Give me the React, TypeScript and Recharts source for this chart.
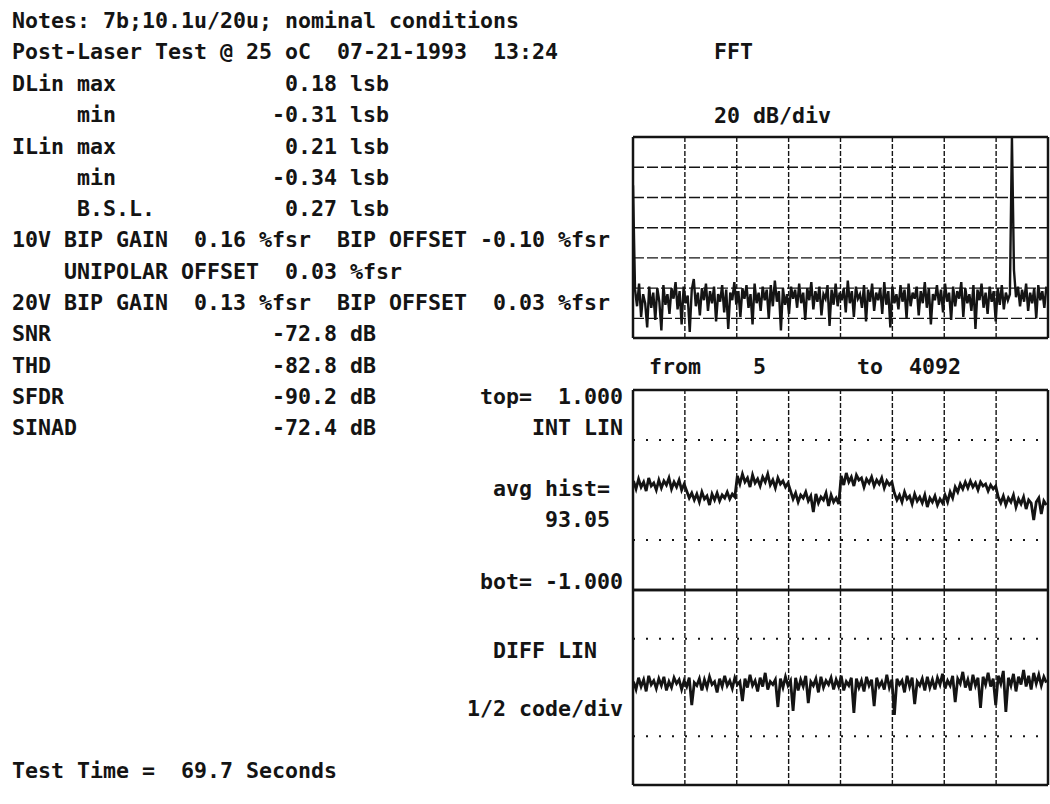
import React from 'react';
import { LineChart, Line, XAxis, YAxis, ReferenceLine } from 'recharts';

const FONT = '"DejaVu Sans Mono", "Liberation Mono", monospace';
const CHAR_W = 13;
const INK = '#141414';

// report text: [column, row centre y, text]
const reportLabels: [number, number, string][] = [
  [0, 20, 'Notes: 7b;10.1u/20u; nominal conditions'],
  [0, 51, 'Post-Laser Test @ 25 oC  07-21-1993  13:24'],
  [54, 51, 'FFT'],
  [0, 83, 'DLin max'], [21, 83, '0.18 lsb'],
  [5, 114, 'min'], [20, 114, '-0.31 lsb'],
  [0, 146, 'ILin max'], [21, 146, '0.21 lsb'],
  [5, 177, 'min'], [20, 177, '-0.34 lsb'],
  [5, 208, 'B.S.L.'], [21, 208, '0.27 lsb'],
  [0, 239, '10V BIP GAIN'], [14, 239, '0.16 %fsr'], [25, 239, 'BIP OFFSET'], [36, 239, '-0.10 %fsr'],
  [4, 271, 'UNIPOLAR OFFSET'], [21, 271, '0.03 %fsr'],
  [0, 302, '20V BIP GAIN'], [14, 302, '0.13 %fsr'], [25, 302, 'BIP OFFSET'], [37, 302, '0.03 %fsr'],
  [0, 333, 'SNR'], [20, 333, '-72.8 dB'],
  [0, 365, 'THD'], [20, 365, '-82.8 dB'],
  [0, 396, 'SFDR'], [20, 396, '-90.2 dB'],
  [0, 427, 'SINAD'], [20, 427, '-72.4 dB'],
  [54, 115, '20 dB/div'],
  [49, 366, 'from'], [57, 366, '5'], [65, 366, 'to'], [69, 366, '4092'],
  [36, 396, 'top=  1.000'],
  [40, 427, 'INT LIN'],
  [37, 488, 'avg hist='],
  [41, 519, '93.05'],
  [36, 581, 'bot= -1.000'],
  [37, 650, 'DIFF LIN'],
  [35, 708, '1/2 code/div'],
  [0, 770, 'Test Time =  69.7 Seconds'],
];

// FFT, 20 dB/div, one value every 10 bins
const FFT_BIN_STEP = 10;
const fftDb = [
  -32, -101, -112, -97, -119, -104, -110, -126, -99, -113,
  -103, -121, -100, -109, -128, -98, -111, -104, -117, -100,
  -107, -96, -114, -102, -124, -99, -110, -105, -129, -101,
  -94, -112, -103, -118, -100, -108, -97, -115, -102, -110,
  -99, -122, -104, -109, -98, -116, -101, -127, -103, -108,
  -96, -111, -102, -119, -100, -107, -98, -113, -104, -124,
  -97, -110, -103, -115, -99, -108, -101, -120, -98, -112,
  -95, -109, -102, -128, -100, -111, -104, -117, -99, -107,
  -101, -113, -97, -110, -103, -121, -100, -108, -96, -114,
  -102, -109, -99, -118, -104, -107, -98, -125, -101, -111,
  -97, -112, -103, -108, -100, -116, -95, -110, -102, -119,
  -99, -107, -104, -113, -98, -122, -101, -109, -97, -115,
  -103, -108, -100, -117, -96, -111, -102, -126, -99, -110,
  -104, -114, -98, -109, -101, -120, -97, -112, -103, -107,
  -99, -118, -102, -110, -96, -113, -100, -124, -104, -108,
  -98, -111, -101, -116, -97, -109, -103, -121, -99, -112,
  -102, -107, -96, -119, -100, -110, -104, -115, -98, -127,
  -101, -108, -97, -113, -103, -117, -99, -109, -102, -122,
  -100, -111, -98, -114, -103, -108, -104, 0, -88, -106,
  -99, -112, -101, -109, -97, -115, -103, -110, -100, -120,
  -98, -108, -102, -113, -99,
];
const fftXTicks = [256, 512, 768, 1024, 1280, 1536, 1792];
const fftYTicks = [-20, -40, -60, -80, -100, -120];

// histogram codes 5 .. 4092, one value every 25 codes
const CODE_START = 5;
const CODE_STEP = 25;
const inlLsb = [
  0.09, 0.01, 0.11, 0.03, 0.08, -0.01, 0.12, 0.04, 0.07, 0.0, 0.10, 0.02, 0.09, 0.05, 0.12, 0.01, 0.08, 0.03, 0.10, 0.0, 0.06,
  -0.01, -0.08, -0.03, -0.10, -0.04, -0.12, -0.02, -0.09, -0.06, -0.15, -0.04, -0.10, -0.03, -0.11, -0.05, -0.08, -0.02, -0.09, -0.04, -0.07,
  0.14, 0.06, 0.16, 0.08, 0.12, 0.03, 0.15, 0.07, 0.11, 0.04, 0.13, 0.08, 0.16, 0.05, 0.10, 0.02, 0.12, 0.06, 0.09, 0.03, 0.07,
  -0.01, -0.09, -0.03, -0.12, -0.05, -0.08, -0.02, -0.11, -0.06, -0.22, -0.04, -0.13, -0.07, -0.10, -0.03, -0.16, -0.05, -0.12, -0.08, -0.14,
  0.14, 0.05, 0.17, 0.08, 0.13, 0.04, 0.15, 0.10, 0.12, 0.03, 0.11, 0.07, 0.13, 0.04, 0.10, 0.06, 0.12, 0.02, 0.09, 0.05, 0.08,
  -0.03, -0.10, -0.05, -0.12, -0.02, -0.09, -0.06, -0.14, -0.04, -0.11, -0.07, -0.13, -0.05, -0.17, -0.08, -0.12, -0.06, -0.15, -0.09, -0.13,
  -0.05, -0.12, -0.02, -0.08, 0.03, -0.02, 0.06, 0.01, 0.08, 0.02, 0.09, 0.03, 0.07, 0.0, 0.08, 0.04, 0.06, -0.01, 0.05, 0.01, 0.04,
  -0.07, -0.13, -0.06, -0.15, -0.08, -0.12, -0.05, -0.17, -0.09, -0.14, -0.07, -0.19, -0.10, -0.13, -0.30, -0.12, -0.08, -0.24, -0.11, -0.15,
];
const dnlLsb = [
  0.06, -0.02, 0.10, 0.01, 0.08, -0.04, 0.12, 0.03, 0.07, -0.01, 0.09, 0.02, 0.11, -0.03, 0.06, 0.0, 0.10, 0.04, 0.08, -0.02,
  0.07, 0.01, 0.10, -0.18, 0.05, 0.02, 0.09, -0.03, 0.08, 0.0, 0.11, 0.03, 0.06, -0.05, 0.09, 0.01, 0.12, 0.02, 0.07, -0.01,
  0.10, 0.03, 0.06, -0.14, 0.09, 0.0, 0.13, 0.02, 0.07, -0.04, 0.10, 0.01, 0.15, -0.02, 0.06, 0.03, 0.08, -0.20, 0.09, 0.0,
  0.11, 0.02, 0.07, -0.24, 0.10, -0.03, 0.08, 0.01, 0.12, -0.16, 0.06, 0.02, 0.09, -0.05, 0.11, 0.0, 0.07, 0.03, 0.10, -0.02,
  0.08, 0.01, 0.12, -0.03, 0.06, 0.02, 0.10, -0.26, 0.09, 0.0, 0.07, -0.04, 0.11, 0.02, 0.08, -0.19, 0.10, 0.01, 0.06, -0.02,
  0.13, 0.0, 0.08, -0.28, 0.09, 0.03, 0.07, -0.05, 0.12, 0.01, 0.10, -0.17, 0.06, 0.02, 0.09, -0.03, 0.11, 0.0, 0.08, -0.02,
  0.10, 0.03, 0.14, -0.01, 0.07, 0.02, 0.12, -0.15, 0.09, 0.04, 0.16, 0.0, 0.08, -0.03, 0.13, 0.02, 0.10, -0.21, 0.11, 0.03,
  0.15, 0.01, 0.09, -0.18, 0.12, 0.04, 0.17, -0.25, 0.10, 0.02, 0.14, -0.04, 0.11, 0.03, 0.18, 0.01, 0.12, -0.02, 0.15, 0.04,
  0.13, 0.02, 0.11, 0.05,
];
const codeTicks = [512, 1024, 1536, 2048, 2560, 3072, 3584];
const linTicks = [0.5, -0.5];

const fftData = fftDb.map((db, i) => ({ bin: i * FFT_BIN_STEP, db }));
const inlData = inlLsb.map((v, i) => ({ code: CODE_START + i * CODE_STEP, v }));
const dnlData = dnlLsb.map((v, i) => ({ code: CODE_START + i * CODE_STEP, v }));

const M = { top: 2, right: 2, bottom: 2, left: 2 };

function Frame({ xMax, yMin, yMax }: { xMax: number; yMin: number; yMax: number }) {
  return (
    <>
      <ReferenceLine x={0} stroke={INK} strokeWidth={2.5} />
      <ReferenceLine x={xMax} stroke={INK} strokeWidth={2.5} />
      <ReferenceLine y={yMin} stroke={INK} strokeWidth={2.5} />
      <ReferenceLine y={yMax} stroke={INK} strokeWidth={2.5} />
    </>
  );
}

function FftPanel() {
  return (
    <LineChart width={419} height={205} data={fftData} margin={M}>
      <XAxis type="number" dataKey="bin" domain={[0, 2048]} allowDataOverflow hide />
      <YAxis type="number" domain={[-133, 0]} allowDataOverflow hide width={0} />
      {fftYTicks.map((t) => (
        <ReferenceLine key={'h' + t} y={t} stroke={INK} strokeWidth={1.4} strokeDasharray="11 3" />
      ))}
      {fftXTicks.map((t) => (
        <ReferenceLine key={'v' + t} x={t} stroke={INK} strokeWidth={1.4} strokeDasharray="5 2" />
      ))}
      {Frame({ xMax: 2048, yMin: -133, yMax: 0 })}
      <Line type="linear" dataKey="db" stroke={INK} strokeWidth={2.4} dot={false} isAnimationActive={false} />
    </LineChart>
  );
}

function LinPanel({ data, height }: { data: { code: number; v: number }[]; height: number }) {
  return (
    <LineChart width={419} height={height} data={data} margin={M}>
      <XAxis type="number" dataKey="code" domain={[0, 4096]} allowDataOverflow hide />
      <YAxis type="number" domain={[-1, 1]} allowDataOverflow hide width={0} />
      {linTicks.map((t) => (
        <ReferenceLine key={'h' + t} y={t} stroke={INK} strokeWidth={2} strokeDasharray="2 11" />
      ))}
      {codeTicks.map((t) => (
        <ReferenceLine key={'v' + t} x={t} stroke={INK} strokeWidth={1.4} strokeDasharray="5 2" />
      ))}
      {Frame({ xMax: 4096, yMin: -1, yMax: 1 })}
      <Line type="linear" dataKey="v" stroke={INK} strokeWidth={2.8} dot={false} isAnimationActive={false} />
    </LineChart>
  );
}

export default function App() {
  return (
    <div style={{ position: 'absolute', left: 0, top: 0, width: 1050, height: 804, background: '#fff', overflow: 'hidden' }}>
      <svg width={1050} height={804} style={{ position: 'absolute', left: 0, top: 0 }}>
        {reportLabels.map(([col, y, text], i) => (
          <text
            key={i}
            x={12 + col * CHAR_W}
            y={y + 8}
            fontFamily={FONT}
            fontSize={21.6}
            fontWeight="bold"
            fill={INK}
            xmlSpace="preserve"
            style={{ whiteSpace: 'pre' }}
            textLength={text.length * CHAR_W}
            lengthAdjust="spacingAndGlyphs"
          >
            {text}
          </text>
        ))}
      </svg>
      <div style={{ position: 'absolute', left: 631, top: 135 }}>
        <FftPanel />
      </div>
      <div style={{ position: 'absolute', left: 631, top: 388 }}>
        <LinPanel data={inlData} height={204} />
      </div>
      <div style={{ position: 'absolute', left: 631, top: 588 }}>
        <LinPanel data={dnlData} height={199} />
      </div>
    </div>
  );
}
